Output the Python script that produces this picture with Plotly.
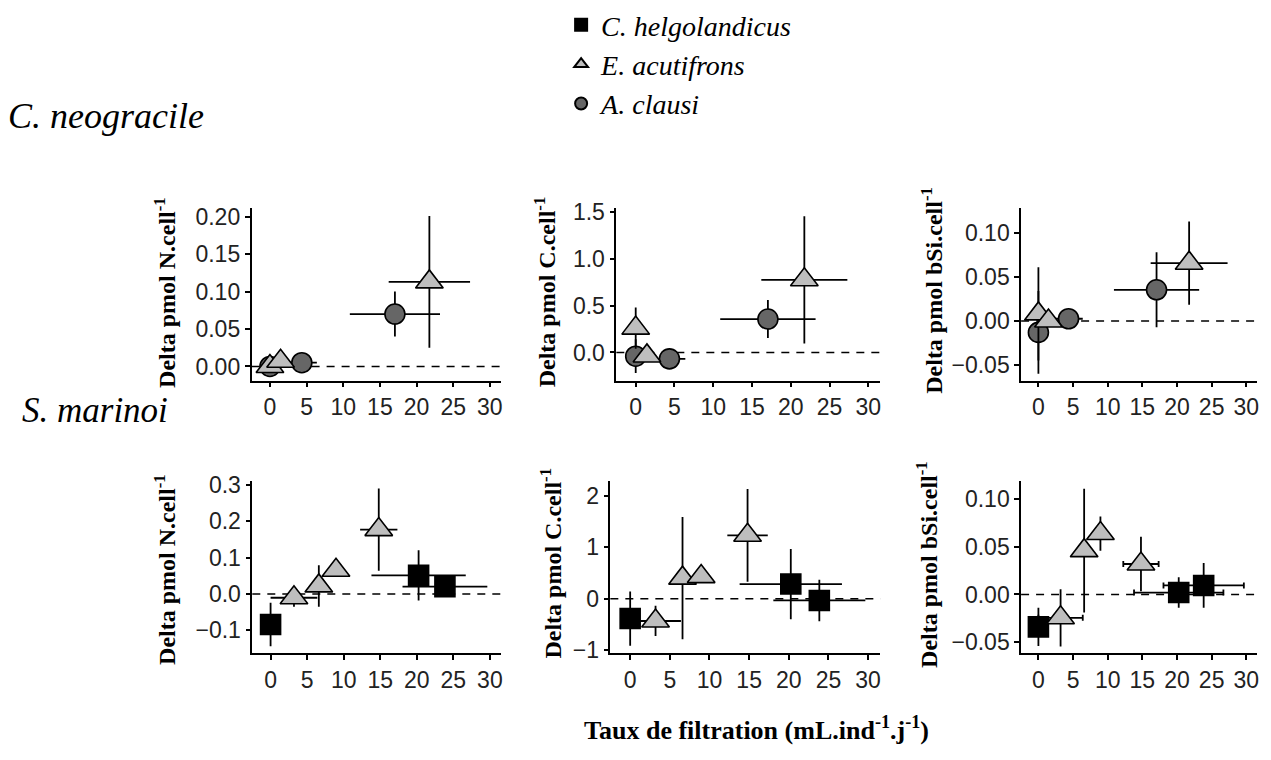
import plotly.graph_objects as go

# ---------------- data ----------------
# C. neogracile (top row): E. acutifrons (triangles) and A. clausi (circles)
cn_tri_x = [0, 1.45, 21.75]
cn_tri_xerr = [0, 0, 5.55]
cn_circ_x = [0, 4.35, 17.05]
cn_circ_xerr = [0, 2.05, 6.15]

cn_N_tri_y = [0.0, 0.007, 0.113]
cn_N_tri_yerr = [0, 0, 0.088]
cn_N_circ_y = [0.0, 0.005, 0.070]
cn_N_circ_yerr = [0, 0, 0.030]

cn_C_tri_y = [0.26, -0.037, 0.776]
cn_C_tri_yerr = [0.22, 0, 0.68]
cn_C_circ_y = [-0.04, -0.068, 0.357]
cn_C_circ_yerr = [0.18, 0, 0.203]

cn_Si_tri_y = [0.008, 0.0, 0.0657]
cn_Si_tri_yerr = [0.053, 0, 0.0474]
cn_Si_circ_y = [-0.013, 0.0025, 0.0354]
cn_Si_circ_yerr = [0.047, 0, 0.0427]

# S. marinoi (bottom row): C. helgolandicus (squares) and E. acutifrons (triangles)
sm_sq_x = [0, 20.25, 23.85]
sm_sq_xerr = [0, 6.45, 5.8]
sm_tri_x = [3.2, 6.6, 8.95, 14.8]
sm_tri_xerr = [3.2, 0, 0, 2.55]

sm_N_sq_y = [-0.084, 0.051, 0.020]
sm_N_sq_yerr = [0.06, 0.069, 0]
sm_N_tri_y = [-0.0106, 0.022, 0.065, 0.177]
sm_N_tri_yerr = [0.025, 0.057, 0, 0.113]

sm_C_sq_y = [-0.388, 0.285, -0.035]
sm_C_sq_yerr = [0.53, 0.685, 0.405]
sm_C_tri_y = [-0.435, 0.40, 0.43, 1.235]
sm_C_tri_yerr = [0.295, 1.19, 0, 0.905]

sm_Si_sq_y = [-0.034, 0.002, 0.0095]
sm_Si_sq_yerr = [0.02, 0.016, 0.0235]
sm_Si_tri_y = [-0.0245, 0.046, 0.064, 0.032]
sm_Si_tri_yerr = [0.03, 0.065, 0.018, 0.0286]

species_names = ["C. helgolandicus", "E. acutifrons", "A. clausi"]
row_labels = ["C. neogracile", "S. marinoi"]
y_titles = ["Delta pmol N.cell<sup>-1</sup>", "Delta pmol C.cell<sup>-1</sup>",
            "Delta pmol bSi.cell<sup>-1</sup>"]
x_title = "Taux de filtration (mL.ind<sup>-1</sup>.j<sup>-1</sup>)"
x_ticks = [0, 5, 10, 15, 20, 25, 30]

# ---------------- styles / geometry ----------------
W, H = 1271, 760


def fx(X):
    return X / W


def fy(Y):
    return 1 - Y / H


SERIF = "Liberation Serif, Times New Roman, serif"
SANS = "Liberation Sans, Arial, sans-serif"
TRI_FILL = "#BEBEBE"
CIRC_FILL = "#666666"
SQ_FILL = "#000000"

style = {
    "sq": dict(symbol="square", size=20, color=SQ_FILL, name=species_names[0], rank=1),
    "tri": dict(symbol="triangle-up", size=24, color=TRI_FILL, name=species_names[1], rank=2),
    "circ": dict(symbol="circle", size=20, color=CIRC_FILL, name=species_names[2], rank=3),
}

# panel geometry in target pixels: (x_left, x_right), (y_top, y_bottom)
panels = [
    dict(px=(252, 502), py=(196, 376), yr=[-0.019, 0.2124], tv=[0, 0.05, 0.10, 0.15, 0.20], tf=".2f",
         ytitle=0, tx=165, ty=284, caps=0,
         series=[("circ", cn_circ_x, cn_circ_xerr, cn_N_circ_y, cn_N_circ_yerr),
                 ("tri", cn_tri_x, cn_tri_xerr, cn_N_tri_y, cn_N_tri_yerr)]),
    dict(px=(617.3, 881.7), py=(196, 376), yr=[-0.301, 1.548], tv=[0, 0.5, 1.0, 1.5], tf=".1f",
         ytitle=1, tx=546, ty=284, caps=0,
         series=[("circ", cn_circ_x, cn_circ_xerr, cn_C_circ_y, cn_C_circ_yerr),
                 ("tri", cn_tri_x, cn_tri_xerr, cn_C_tri_y, cn_C_tri_yerr)]),
    dict(px=(1022.7, 1259), py=(196, 376), yr=[-0.0679, 0.129], tv=[-0.05, 0, 0.05, 0.10], tf=".2f",
         ytitle=2, tx=934, ty=282, caps=0,
         series=[("circ", cn_circ_x, cn_circ_xerr, cn_Si_circ_y, cn_Si_circ_yerr),
                 ("tri", cn_tri_x, cn_tri_xerr, cn_Si_tri_y, cn_Si_tri_yerr)]),
    dict(px=(252.7, 502), py=(480, 659.3), yr=[-0.163, 0.3116], tv=[-0.1, 0, 0.1, 0.2, 0.3], tf=".1f",
         ytitle=0, tx=165, ty=572, caps=0,
         series=[("sq", sm_sq_x, sm_sq_xerr, sm_N_sq_y, sm_N_sq_yerr),
                 ("tri", sm_tri_x, sm_tri_xerr, sm_N_tri_y, sm_N_tri_yerr)]),
    dict(px=(611.3, 881.8), py=(480, 659.3), yr=[-1.062, 2.30], tv=[-1, 0, 1, 2], tf="d",
         ytitle=1, tx=552, ty=566, caps=0,
         series=[("sq", sm_sq_x, sm_sq_xerr, sm_C_sq_y, sm_C_sq_yerr),
                 ("tri", sm_tri_x, sm_tri_xerr, sm_C_tri_y, sm_C_tri_yerr)]),
    dict(px=(1022.7, 1259), py=(480, 659.3), yr=[-0.0616, 0.1195], tv=[-0.05, 0, 0.05, 0.10], tf=".2f",
         ytitle=2, tx=929, ty=567, caps=3,
         series=[("sq", sm_sq_x, sm_sq_xerr, sm_Si_sq_y, sm_Si_sq_yerr),
                 ("tri", sm_tri_x, sm_tri_xerr, sm_Si_tri_y, sm_Si_tri_yerr)]),
]

fig = go.Figure()
shown = set()
layout_axes = {}
annotations = []
shapes = []

for i, p in enumerate(panels, start=1):
    xa = "x" if i == 1 else f"x{i}"
    ya = "y" if i == 1 else f"y{i}"
    xkey = "xaxis" if i == 1 else f"xaxis{i}"
    ykey = "yaxis" if i == 1 else f"yaxis{i}"
    common = dict(showline=True, linecolor="black", linewidth=1.6, ticks="outside", ticklen=5,
                  tickwidth=1.6, tickcolor="black", showgrid=False, zeroline=False,
                  tickfont=dict(family=SANS, size=23, color="#222222"))
    layout_axes[xkey] = dict(domain=[fx(p["px"][0]), fx(p["px"][1])], range=[-2.5, 31.55],
                             tickvals=x_ticks, anchor=ya, **common)
    layout_axes[ykey] = dict(domain=[fy(p["py"][1]), fy(p["py"][0])], range=p["yr"],
                             tickvals=p["tv"], tickformat=p["tf"], anchor=xa, **common)
    # dashed zero reference line
    shapes.append(dict(type="line", xref=f"{xa} domain", yref=ya, x0=0, x1=1, y0=0, y1=0,
                       line=dict(color="black", width=1.5, dash="8px,7px"), layer="below"))
    for key, xs, xe, ys, ye in p["series"]:
        s = style[key]
        fig.add_trace(go.Scatter(
            x=xs, y=ys, mode="markers", xaxis=xa, yaxis=ya,
            name=f"<i>{s['name']}</i>", legendgroup=key, legendrank=s["rank"],
            showlegend=key not in shown,
            marker=dict(symbol=s["symbol"], size=s["size"], color=s["color"],
                        line=dict(color="black", width=1.6)),
            error_x=dict(type="data", array=xe, visible=True, color="black", thickness=1.8,
                         width=p["caps"]),
            error_y=dict(type="data", array=ye, visible=True, color="black", thickness=1.8,
                         width=0),
        ))
        shown.add(key)
    annotations.append(dict(xref="paper", yref="paper", x=fx(p["tx"]), y=fy(p["ty"]),
                            text=f"<b>{y_titles[p['ytitle']]}</b>", textangle=-90, showarrow=False,
                            xanchor="center", yanchor="middle",
                            font=dict(family=SERIF, size=24, color="black")))

# row labels
annotations.append(dict(xref="paper", yref="paper", x=fx(6), y=fy(101), text=f"<i>{row_labels[0]}</i>",
                        showarrow=False, xanchor="left", yanchor="middle",
                        font=dict(family=SERIF, size=36, color="black")))
annotations.append(dict(xref="paper", yref="paper", x=fx(20), y=fy(407), text=f"<i>{row_labels[1]}</i>",
                        showarrow=False, xanchor="left", yanchor="middle",
                        font=dict(family=SERIF, size=35, color="black")))
# x title
annotations.append(dict(xref="paper", yref="paper", x=fx(758), y=fy(757), text=f"<b>{x_title}</b>",
                        showarrow=False, xanchor="center", yanchor="bottom",
                        font=dict(family=SERIF, size=26, color="black")))

fig.update_layout(
    width=W, height=H, margin=dict(l=0, r=0, t=0, b=0),
    paper_bgcolor="white", plot_bgcolor="white",
    showlegend=True,
    legend=dict(x=fx(562), y=1 + 20 / H, xanchor="left", yanchor="top",
                font=dict(family=SERIF, size=28, color="black"),
                itemsizing="constant", tracegroupgap=0, bgcolor="rgba(0,0,0,0)"),
    annotations=annotations, shapes=shapes,
    **layout_axes,
)

# remove the default page margin so the figure fills the window exactly
fig.write_html("out.html", config={"displayModeBar": False},
               post_script="document.body.style.margin='0';")
